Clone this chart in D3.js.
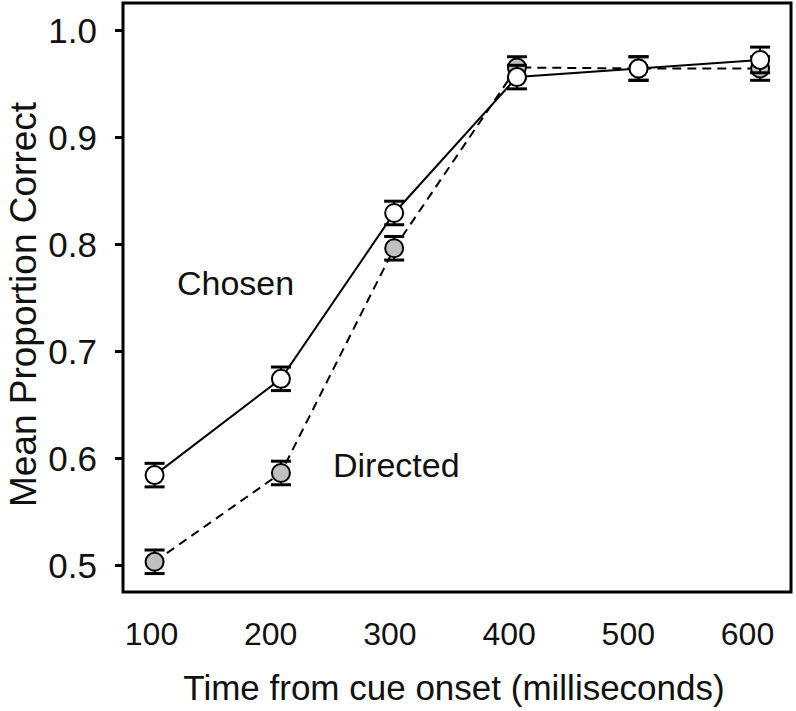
<!DOCTYPE html>
<html>
<head>
<meta charset="utf-8">
<script src="https://cdn.jsdelivr.net/npm/d3@7"></script>
<style>
  html, body { margin: 0; padding: 0; background: #fff; }
  svg { display: block; font-family: "Liberation Sans", Arial, Helvetica, sans-serif; }
</style>
</head>
<body>
<svg id="chart" width="796" height="711"></svg>
<script>
// ---- data ----
const xTicks = [100, 200, 300, 400, 500, 600];
const yTicks = [0.5, 0.6, 0.7, 0.8, 0.9, 1.0];
const timeChosen   = [103, 209, 304, 407, 509, 611];
const chosenMean   = [0.584, 0.674, 0.829, 0.956, 0.964, 0.972];
const chosenErr    = [0.011, 0.011, 0.011, 0.011, 0.011, 0.012];
const timeDirected = [103, 209, 304, 407, 509, 611];
const directedMean = [0.503, 0.586, 0.796, 0.965, 0.964, 0.964];
const directedErr  = [0.011, 0.011, 0.011, 0.010, 0.011, 0.011];
const seriesLabels = ["Chosen", "Directed"];

// ---- layout ----
const svg = d3.select("#chart");
const box = {left: 123, right: 791, top: 3, bottom: 592};
const x = d3.scaleLinear().domain([100, 600]).range([151, 747]);
const y = d3.scaleLinear().domain([0.5, 1.0]).range([565, 30]);

// frame
svg.append("rect")
  .attr("x", box.left).attr("y", box.top)
  .attr("width", box.right - box.left).attr("height", box.bottom - box.top)
  .attr("fill", "none").attr("stroke", "#000").attr("stroke-width", 3);

// y axis
const yAxis = svg.append("g")
  .attr("transform", `translate(${box.left},0)`)
  .call(d3.axisLeft(y).tickValues(yTicks).tickFormat(d3.format(".1f")).tickSize(8).tickPadding(18));
yAxis.select(".domain").remove();
yAxis.selectAll(".tick line").attr("stroke", "#000").attr("stroke-width", 3);
yAxis.selectAll(".tick text")
  .attr("font-size", 35).attr("fill", "#111").attr("dy", "0.357em")
  .style("font-family", '"Liberation Sans", Arial, sans-serif');

// x axis
const xAxis = svg.append("g")
  .attr("transform", `translate(0,${box.bottom})`)
  .call(d3.axisBottom(x).tickValues(xTicks).tickFormat(d3.format("d")).tickSize(0));
xAxis.select(".domain").remove();
xAxis.selectAll(".tick line").remove();
xAxis.selectAll(".tick text")
  .attr("y", 53).attr("dy", 0)
  .attr("font-size", 32).attr("fill", "#111")
  .style("font-family", '"Liberation Sans", Arial, sans-serif');

// axis titles
svg.append("text")
  .attr("x", (box.left + box.right) / 2 - 3).attr("y", 700)
  .attr("text-anchor", "middle").attr("font-size", 35).attr("fill", "#111")
  .text("Time from cue onset (milliseconds)");
svg.append("text")
  .attr("transform", `translate(36,${(box.top + box.bottom) / 2 + 7}) rotate(-90)`)
  .attr("text-anchor", "middle").attr("font-size", 37).attr("fill", "#111")
  .text("Mean Proportion Correct");

// series
const line = d3.line().x(d => x(d.t)).y(d => y(d.m));
function drawSeries(times, means, errs, fill, dash) {
  const pts = times.map((t, i) => ({t, m: means[i], e: errs[i]}));
  svg.append("path").datum(pts)
    .attr("d", line).attr("fill", "none").attr("stroke", "#000")
    .attr("stroke-width", 2).attr("stroke-dasharray", dash);
  const g = svg.append("g");
  const eb = g.selectAll(".eb").data(pts).enter().append("g");
  eb.append("line")
    .attr("x1", d => x(d.t)).attr("x2", d => x(d.t))
    .attr("y1", d => y(d.m + d.e)).attr("y2", d => y(d.m - d.e))
    .attr("stroke", "#000").attr("stroke-width", 2);
  [1, -1].forEach(s => {
    eb.append("line")
      .attr("x1", d => x(d.t) - 10).attr("x2", d => x(d.t) + 10)
      .attr("y1", d => y(d.m + s * d.e)).attr("y2", d => y(d.m + s * d.e))
      .attr("stroke", "#000").attr("stroke-width", 3);
  });
  g.selectAll("circle").data(pts).enter().append("circle")
    .attr("cx", d => x(d.t)).attr("cy", d => y(d.m)).attr("r", 9)
    .attr("fill", fill).attr("stroke", "#000").attr("stroke-width", 2);
}
drawSeries(timeDirected, directedMean, directedErr, "#c0c0c0", "9,6");
drawSeries(timeChosen, chosenMean, chosenErr, "#ffffff", null);

// series labels
svg.append("text").attr("x", 177).attr("y", 295)
  .attr("font-size", 34).attr("fill", "#111").text(seriesLabels[0]);
svg.append("text").attr("x", 333).attr("y", 477)
  .attr("font-size", 34).attr("fill", "#111").text(seriesLabels[1]);
</script>
</body>
</html>
